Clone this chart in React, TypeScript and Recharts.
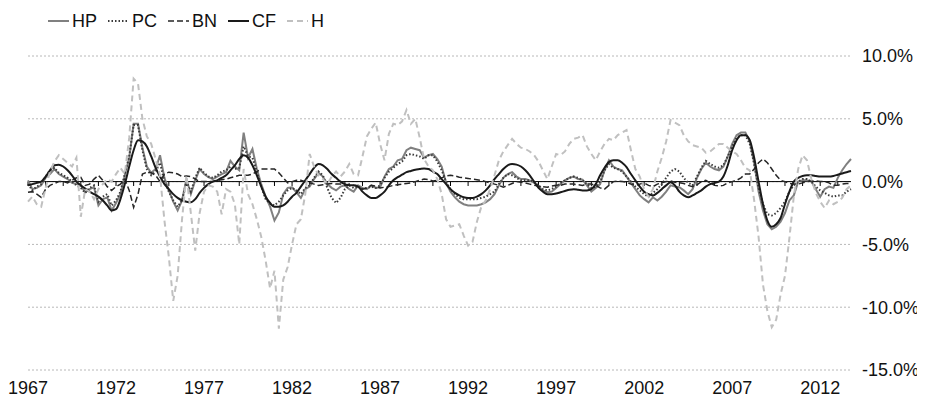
import React from 'react';
import { LineChart, Line, XAxis, YAxis, CartesianGrid, ReferenceLine } from 'recharts';

// quarterly gaps, % (1967Q1 - 2013Q4)
const years = Array.from({ length: 47 }, (_, i) => 1967 + i);
const quarters = years.flatMap(y => [`${y}Q1`, `${y}Q2`, `${y}Q3`, `${y}Q4`]);

const hp = [
    0.1, -0.6, -0.5, -0.3, 0.3, 0.6, 1.0, 0.6,
    0.4, 0.2, -0.1, -0.2, -0.3, -0.85, -0.6, -0.45,
    -1.9, -1.4, -1.25, -2.3, -1.7, -1.0, 0.5, 1.9,
    4.6, 4.6, 2.7, 1.2, 0.7, 1.0, 2.1, 0.3,
    -0.7, -1.6, -2.3, -1.5, 0.2, -1.0, 0.1, 1.0,
    0.6, 0.35, 0.2, 0.4, 0.6, 0.75, 1.65, 1.2,
    0.9, 3.9, 1.9, 2.6, 1.0, -0.2, -1.2, -2.0,
    -3.1, -2.45, -1.0, -0.5, -0.45, -0.85, -1.3, -0.6,
    -0.4, 0.2, 0.7, 0.4, -0.2, -0.5, -0.7, -0.4,
    -0.3, -0.6, -0.8, -0.3, -0.5, -0.6, -0.3, -0.5,
    -0.45, 0.4, 1.0, 1.2, 1.7, 1.8, 2.5, 2.7,
    2.6, 2.5, 1.9, 2.1, 2.2, 1.8, 1.2, -0.1,
    -0.8, -1.25, -1.6, -1.8, -1.9, -1.9, -1.9, -1.8,
    -1.65, -1.4, -1.0, -0.3, 0.3, 0.6, 0.75, 0.4,
    0.2, 0.2, 0.1, -0.1, -0.4, -0.7, -0.85, -0.8,
    -0.5, -0.2, 0.1, 0.3, 0.4, 0.2, 0.15, -0.3,
    -0.8, -0.5, -0.2, 0.9, 1.7, 1.2, 1.0, 0.9,
    0.4, -0.1, -0.6, -1.1, -1.4, -1.65, -1.25, -1.5,
    -1.2, -0.8, -0.3, -0.4, -0.45, -0.7, -1.0, -0.6,
    0.3, 1.0, 1.5, 1.2, 1.0, 0.9, 1.2, 2.0,
    3.0, 3.7, 3.9, 3.9, 3.2, 1.5, -0.8, -2.3,
    -3.4, -3.8, -3.6, -3.2, -2.5, -1.5, -1.1, 0.0,
    0.1, 0.1, 0.0, -0.6, -1.2, -0.6, -0.4, -0.5,
    0.3, 0.9, 1.4, 1.8,
];

const pc = [
    -0.2, -0.7, -0.4, -0.2, 0.4, 0.9, 1.1, 0.7,
    0.5, 0.3, 0.0, -0.3, -0.5, -0.9, -0.5, -0.3,
    -1.6, -1.2, -1.0, -1.9, -1.5, -0.8, 0.6, 2.0,
    4.5, 4.5, 2.5, 1.0, 0.5, 0.8, 1.5, 0.0,
    -0.8, -1.5, -2.0, -1.5, 0.0, -0.8, 0.3, 1.1,
    0.7, 0.4, 0.3, 0.5, 0.8, 0.9, 1.2, 1.0,
    1.1, 2.8, 2.0, 1.9, 0.8, -0.4, -1.4, -1.75,
    -1.9, -1.6, -1.1, -0.7, -0.5, -0.7, -1.0, -0.5,
    -0.3, 0.3, 0.8, 0.5, -0.5, -1.3, -1.7, -1.3,
    -0.6, -0.3, -0.5, -0.4, -0.6, -0.5, -0.4, -0.5,
    -0.3, 0.3, 0.8, 1.1, 1.4, 1.6, 2.1, 2.2,
    2.1, 2.0, 1.8, 2.1, 2.1, 1.6, 0.9, 0.0,
    -0.6, -1.0, -1.3, -1.4, -1.4, -1.4, -1.4, -1.3,
    -1.2, -1.0, -0.8, -0.2, 0.3, 0.6, 0.5, 0.3,
    0.1, 0.1, 0.1, 0.0, -0.3, -0.6, -0.7, -0.6,
    -0.4, -0.1, 0.1, 0.3, 0.4, 0.3, 0.1, -0.2,
    -0.5, -0.4, 0.0, 0.9, 1.4, 1.1, 1.0, 0.8,
    0.4, 0.0, -0.4, -0.7, -1.0, -1.2, -0.9, -0.6,
    -0.2, 0.3, 0.8, 1.0, 0.8, 0.3, -0.1, -0.3,
    0.4, 1.1, 1.65, 1.4, 1.2, 1.1, 1.3, 2.0,
    2.8, 3.5, 3.7, 3.7, 3.0, 1.4, -0.5, -1.8,
    -2.6, -2.7, -2.5, -2.1, -1.6, -0.8, -0.3, 0.0,
    0.2, 0.2, 0.0, -0.4, -0.7, -0.9, -1.1, -1.2,
    -1.1, -1.1, -0.8, -0.6,
];

const bn = [
    -0.85, -0.8, -1.0, -1.25, -0.6, -0.3, -0.15, 0.0,
    0.0, -0.1, 0.1, 0.3, 0.35, -0.3, -0.2, 0.2,
    0.5, 0.1, -0.4, -0.7, -0.4, -0.2, 0.2, -0.7,
    -2.05, -1.0, 0.6, 0.75, 0.7, 0.5, 0.0, 0.6,
    0.75, 0.7, 0.6, 0.4, 0.45, 0.4, 0.2, 0.0,
    0.0, 0.0, 0.0, 0.1, 0.15, 0.2, 0.3, 0.4,
    0.5, 0.5, 0.5, 0.6, 0.8, 1.0, 1.0, 1.0,
    1.0, 0.7, 0.3, -0.1, 0.0, 0.1, 0.1, 0.0,
    -0.1, -0.2, -0.3, -0.25, -0.2, -0.15, -0.2, -0.2,
    -0.3, -0.2, -0.3, -0.4, -0.6, -0.5, -0.3, -0.35,
    -0.5, -0.45, -0.4, -0.3, -0.25, -0.2, -0.15, -0.1,
    0.0, 0.1, 0.2, 0.15, 0.05, 0.1, 0.3, 0.45,
    0.5, 0.45, 0.35, 0.3, 0.25, 0.2, 0.15, 0.1,
    0.0, -0.1, -0.2, -0.3, -0.45, -0.3, -0.15, 0.0,
    -0.05, -0.1, -0.2, -0.3, -0.35, -0.4, -0.45, -0.35,
    -0.3, -0.3, -0.2, -0.2, -0.2, -0.25, -0.3, -0.2,
    -0.2, -0.3, -0.5, -0.6, -0.3, 0.0, 0.05, 0.0,
    -0.05, -0.2, -0.3, -0.2, -0.1, -0.3, -0.4, -0.2,
    -0.1, 0.0, 0.05, -0.05, -0.1, -0.15, -0.3, -0.4,
    -0.25, 0.0, 0.1, -0.1, -0.3, -0.35, -0.3, -0.1,
    0.0, 0.1, 0.3, 0.6, 0.6, 1.0, 1.5, 1.8,
    1.5, 1.0, 0.5, 0.1, 0.0, -0.15, -0.2, -0.2,
    -0.1, 0.0, 0.05, 0.05, 0.0, 0.0, -0.1, -0.3,
    -0.3, -0.2, -0.15, -0.15,
];

const cf = [
    -0.3, -0.2, -0.1, 0.0, 0.4, 0.9, 1.3, 1.35,
    1.2, 0.9, 0.5, 0.0, -0.3, -0.55, -0.8, -1.0,
    -1.2, -1.5, -1.9, -2.3, -2.2, -1.4, -0.2, 1.2,
    2.5, 3.3, 3.2, 2.8, 2.0, 1.1, 0.4, -0.2,
    -0.6, -1.0, -1.3, -1.5, -1.6, -1.65, -1.4, -0.9,
    -0.5, -0.2, 0.0, 0.1, 0.3, 0.5, 0.9, 1.3,
    1.8, 2.1, 1.9, 1.3, 0.5, -0.4, -1.2, -1.7,
    -2.0, -2.0, -1.9, -1.6, -1.2, -0.9, -0.4, 0.1,
    0.6, 1.1, 1.4, 1.3, 1.0, 0.6, 0.3, 0.0,
    -0.2, -0.3, -0.3, -0.4, -0.8, -1.1, -1.3, -1.3,
    -1.1, -0.8, -0.3, 0.1, 0.35, 0.55, 0.75, 0.85,
    0.95, 1.0, 1.05, 1.0, 0.8, 0.6, 0.2, -0.2,
    -0.6, -0.9, -1.1, -1.25, -1.3, -1.3, -1.2, -1.0,
    -0.7, -0.3, 0.2, 0.6, 1.0, 1.3, 1.4, 1.35,
    1.2, 0.9, 0.5, 0.0, -0.5, -0.8, -1.0, -1.0,
    -0.95, -0.85, -0.75, -0.65, -0.6, -0.65, -0.7, -0.7,
    -0.6, -0.2, 0.5, 1.1, 1.55, 1.7, 1.7, 1.5,
    1.15, 0.6, 0.1, -0.4, -0.8, -1.0, -1.1, -0.9,
    -0.6, -0.3, -0.05, -0.3, -0.8, -1.1, -1.25, -1.1,
    -0.9, -0.7, -0.4, -0.2, -0.1, 0.0, 0.4, 1.3,
    2.5, 3.3, 3.7, 3.7, 3.3, 1.9, 0.0, -1.8,
    -3.1, -3.6, -3.4, -2.9, -1.8, -0.8, 0.0, 0.3,
    0.45, 0.5, 0.5, 0.45, 0.4, 0.4, 0.4, 0.45,
    0.55, 0.65, 0.75, 0.85,
];

const h = [
    -1.6, -1.2, -1.8, -2.0, -0.5, 0.8, 1.6, 2.1,
    1.8, 1.5, 1.2, 1.9, -2.8, -0.6, -0.8, -1.4,
    -0.6, -0.2, 0.2, 0.0, 0.6, 1.1, 0.6, 3.5,
    8.2, 7.8, 5.0, 3.6, 3.0, 1.8, 0.5, -3.1,
    -6.0, -9.5, -7.5, -3.0, 0.5, -2.5, -5.5, -2.5,
    -0.8, -0.3, -0.4, -0.8, -2.6, -0.6, -0.8, -1.8,
    -5.0, 1.0, -1.0, -1.8, -3.0, -4.4, -6.3, -8.5,
    -7.1, -11.7, -7.8, -6.8, -5.0, -3.4, -3.0, -1.0,
    2.2, 1.2, 0.5, 0.2, -0.2, 0.4, 0.8, 0.4,
    0.8, 1.4, 0.6, 0.5, 2.0, 3.6, 4.2, 4.7,
    3.0, 1.7, 3.8, 4.6, 4.5, 4.8, 5.7, 4.6,
    5.0, 3.5, 1.8, 1.2, 0.9, 0.2, -1.0, -3.0,
    -3.6, -3.5, -3.4, -4.3, -5.1, -4.8, -3.2, -2.0,
    -1.5, -0.6, 0.5, 1.7, 2.4, 2.9, 3.4, 3.0,
    2.7, 2.6, 2.4, 2.1, 1.6, 0.9, 0.2, 1.2,
    2.2, 2.1, 2.4, 3.0, 3.4, 3.5, 3.7, 2.8,
    2.2, 1.7, 2.4, 3.0, 3.4, 3.3, 3.7, 3.9,
    4.1, 2.5, 1.0, 0.4, -0.6, -1.2, -0.6, 0.8,
    1.9, 3.2, 4.9, 4.7, 4.5, 3.7, 3.2, 2.9,
    2.8, 2.7, 2.3, 2.4, 2.7, 3.0, 3.0, 2.7,
    2.4, 2.2, 1.7, 1.1, 0.9, -1.5, -4.4, -8.2,
    -10.3, -11.6, -11.0, -9.0, -7.5, -4.5, -1.2, 1.0,
    2.1, 1.7, 0.2, -0.9, -1.6, -2.1, -1.5, -1.8,
    -1.6, -1.3, -0.6, -0.3,
];

const yTicks = [-15, -10, -5, 0, 5, 10];
const xTicks = years.filter(y => (y - 1967) % 5 === 0).map(y => `${y}Q1`);

const series = [
    { key: 'HP', color: '#808080', width: 2, dash: undefined },
    { key: 'PC', color: '#3a3a3a', width: 2, dash: '1.5 2' },
    { key: 'BN', color: '#262626', width: 1.5, dash: '6 3' },
    { key: 'CF', color: '#1a1a1a', width: 2, dash: undefined },
    { key: 'H', color: '#c0c0c0', width: 2, dash: '6 4' },
];

const data = quarters.map((q, i) => ({
    q,
    HP: hp[i],
    PC: pc[i],
    BN: bn[i],
    CF: cf[i],
    H: h[i],
}));

const font = '"Liberation Sans", Arial, sans-serif';

const App: React.FC = () => {
    return (
        <div style={{ position: 'relative', width: 917, height: 395, fontFamily: font }}>
            {/* legend, top left */}
            <div style={{ position: 'absolute', top: 3, left: 40, display: 'flex', alignItems: 'center', height: 20, fontSize: 18, color: '#111' }}>
                {series.map(s => (
                    <div key={s.key} style={{ display: 'flex', alignItems: 'center', marginRight: 11 }}>
                        <svg width={21} height={6} style={{ marginRight: 3 }}>
                            <line x1={0} y1={3} x2={21} y2={3} stroke={s.color} strokeWidth={s.width} strokeDasharray={s.dash} />
                        </svg>
                        <span>{s.key}</span>
                    </div>
                ))}
            </div>
            <LineChart width={917} height={395} data={data} margin={{ top: 48, right: 10, left: 20, bottom: 3 }}>
                <CartesianGrid vertical={false} stroke="#b8b8b8" strokeDasharray="2 2" />
                <XAxis
                    dataKey="q"
                    ticks={xTicks}
                    interval={0}
                    tickFormatter={(v: string) => v.slice(0, 4)}
                    axisLine={false}
                    tickLine={false}
                    height={30}
                    tickMargin={5}
                    tick={{ fill: '#111', fontSize: 18, fontFamily: font }}
                />
                <YAxis
                    orientation="right"
                    domain={[-15, 10]}
                    ticks={yTicks}
                    tickFormatter={(v: number) => `${v.toFixed(1)}%`}
                    axisLine={false}
                    tickLine={false}
                    width={64}
                    tickMargin={5}
                    tick={{ fill: '#111', fontSize: 18, fontFamily: font, textAnchor: 'start' }}
                />
                <ReferenceLine y={0} stroke="#000" strokeWidth={1} />
                {years.map(y => (
                    <ReferenceLine
                        key={y}
                        segment={[{ x: `${y}Q1`, y: 0 }, { x: `${y}Q1`, y: -0.35 }]}
                        stroke="#000"
                        strokeWidth={1}
                    />
                ))}
                {series.map(s => (
                    <Line
                        key={s.key}
                        dataKey={s.key}
                        type={s.key === 'CF' ? 'monotone' : 'linear'}
                        stroke={s.color}
                        strokeWidth={s.width}
                        strokeDasharray={s.dash}
                        dot={false}
                        activeDot={false}
                        isAnimationActive={false}
                    />
                ))}
            </LineChart>
        </div>
    );
};

export default App;
